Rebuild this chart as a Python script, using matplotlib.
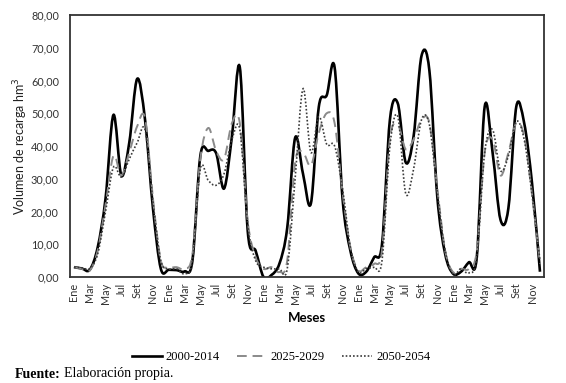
import numpy as np
import matplotlib
matplotlib.use('Agg')
import matplotlib.pyplot as plt
import matplotlib.ticker as ticker
from matplotlib.path import Path
from matplotlib.patches import PathPatch
from matplotlib.lines import Line2D

# meses (5 años, mensual)
meses = ['Ene', 'Feb', 'Mar', 'Abr', 'May', 'Jun',
         'Jul', 'Ago', 'Set', 'Oct', 'Nov', 'Dic'] * 5

# recarga hm3 por escenario
s2000_2014 = [3.0, 2.6, 2.2, 9, 24, 49.5, 31, 41, 60.5, 48, 21, 2.5,
              2.2, 2.1, 1.7, 5, 37, 38.5, 37.8, 27, 43, 64, 14, 8,
              0.0, 0.6, 4, 15, 42.5, 31.5, 22.5, 52, 55.5, 64, 24, 8,
              1.1, 1.6, 6, 10, 48, 53, 35, 43, 67.5, 63, 24.5, 7,
              1.0, 1.6, 4.5, 6, 52, 38, 17.5, 21, 52, 47, 28.5, 1.6]

s2025_2029 = [3.0, 2.5, 2.0, 8, 22, 37, 31, 38, 46, 48.5, 24, 5,
              3, 3, 2.5, 7, 36, 45.5, 38.5, 36, 47, 47, 17, 6,
              2.5, 3, 1.5, 5, 35, 38, 34, 44, 50, 47, 26, 9,
              2, 3, 4, 8, 42, 46.5, 39, 42, 48, 47, 27, 8,
              1.5, 2.5, 2.5, 8, 38, 42, 31, 38, 47, 43, 25, 4]

s2050_2054 = [3.0, 2.8, 2.6, 7, 20, 33.5, 30.5, 36, 41, 45, 23, 5,
              2.5, 2.5, 1, 5, 33, 29.5, 28, 31.5, 42, 45, 16, 5,
              3, 2.5, 2.5, 2.5, 30, 57.5, 38, 49, 40.5, 40, 27, 9,
              1.5, 2.6, 3, 5, 40, 49, 25.5, 33, 48, 46.5, 26, 8,
              0.8, 2.5, 1.2, 6, 38, 45, 32.5, 37, 47.5, 42, 25, 5]

series = [('2000-2014', s2000_2014, dict(color='black', lw=1.9, ls='-')),
          ('2025-2029', s2025_2029, dict(color='#8a8a8a', lw=1.4, ls=(0, (5, 3)))),
          ('2050-2054', s2050_2054, dict(color='#3a3a3a', lw=1.2, ls=(0, (1, 1.2))))]


def linea_suave(x, y):
    # curva suavizada tipo Excel (bezier)
    verts = [(x[0], y[0])]
    codes = [Path.MOVETO]
    n = len(x)
    for i in range(n - 1):
        xa, ya = (x[i - 1], y[i - 1]) if i > 0 else (x[i], y[i])
        xb, yb = (x[i + 2], y[i + 2]) if i + 2 < n else (x[i + 1], y[i + 1])
        c1 = (x[i] + (x[i + 1] - xa) / 6, y[i] + (y[i + 1] - ya) / 6)
        c2 = (x[i + 1] - (xb - x[i]) / 6, y[i + 1] - (yb - y[i]) / 6)
        verts += [c1, c2, (x[i + 1], y[i + 1])]
        codes += [Path.CURVE4] * 3
    return Path(verts, codes)


fig = plt.figure(figsize=(5.66, 3.83), dpi=100)
ax = fig.add_axes([0.1237, 0.2768, 0.8373, 0.684])

x = np.arange(len(meses))
handles = []
for nombre, vals, st in series:
    p = PathPatch(linea_suave(x, np.array(vals, float)), fill=False,
                  edgecolor=st['color'], lw=st['lw'], ls=st['ls'],
                  capstyle='butt', joinstyle='round')
    ax.add_patch(p)
    handles.append(Line2D([], [], color=st['color'], lw=st['lw'], ls=st['ls']))

ax.set_xlim(-0.5, len(meses) - 0.5)
ax.set_ylim(0, 80)
ax.set_yticks(np.arange(0, 81, 10))
ax.yaxis.set_major_formatter(ticker.FuncFormatter(
    lambda v, pos: ('%.2f' % v).replace('.', ',')))
ax.set_xticks(x[::2])
ax.set_xticklabels(meses[::2], rotation=90)
ax.tick_params(axis='both', length=0, labelsize=7.8, colors='#333333')
ax.tick_params(axis='x', pad=4)
ax.tick_params(axis='y', pad=8)
for lab in ax.get_xticklabels() + ax.get_yticklabels():
    lab.set_family('Lato')

for sp in ax.spines.values():
    sp.set_color('#333333')
    sp.set_linewidth(1.3)

ax.set_ylabel('Volumen de recarga hm$^3$', family='Lato', fontsize=9,
              color='#222222', labelpad=1)
ax.set_xlabel('Meses', family='Lato', fontsize=9.5, fontweight='bold',
              labelpad=6)

fig.legend(handles, [s[0] for s in series], loc='center',
           bbox_to_anchor=(281 / 566, 1 - 357 / 383), ncol=3, frameon=False,
           prop=dict(family='Liberation Serif', size=9), handlelength=2.4,
           columnspacing=1.4, handletextpad=0.3)

yf = 1 - 374 / 383
t = fig.text(15 / 566, yf, 'Fuente:', family='Liberation Serif',
             fontsize=10, fontweight='bold', va='center')
fig.canvas.draw()
bb = t.get_window_extent()
fig.text((bb.x1 + 3) / 566, yf, 'Elaboración propia.',
         family='Liberation Serif', fontsize=10, va='center')

fig.savefig('out.png', dpi=100)
